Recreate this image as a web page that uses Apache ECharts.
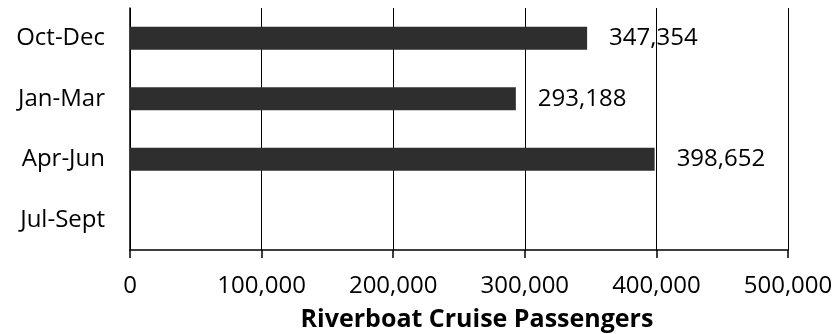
<!DOCTYPE html>
<html>
<head>
<meta charset="utf-8">
<script src="https://cdn.jsdelivr.net/npm/echarts@6/dist/echarts.min.js"></script>
<style>
html,body{margin:0;padding:0;background:#fff;}
#chart{width:839px;height:334px;}
</style>
</head>
<body>
<div id="chart"></div>
<script>
const categories = ['Oct-Dec', 'Jan-Mar', 'Apr-Jun', 'Jul-Sept'];
const passengers = [347354, 293188, 398652, null];
const axisTitle = 'Riverboat Cruise Passengers';

const fmt = v => Number(v).toLocaleString('en-US');
const FONT = '"Open Sans", sans-serif';

const chart = echarts.init(document.getElementById('chart'), null, {renderer: 'canvas'});
chart.setOption({
  animation: false,
  backgroundColor: '#ffffff',
  grid: {left: 130, right: 51, top: 8, bottom: 84, containLabel: false},
  xAxis: {
    type: 'value',
    min: 0,
    max: 500000,
    interval: 100000,
    axisLine: {show: true, lineStyle: {color: '#000', width: 1.5}},
    axisTick: {show: true, length: 8, lineStyle: {color: '#000', width: 1.5}},
    splitLine: {show: true, lineStyle: {color: '#000', width: 1}},
    axisLabel: {
      formatter: v => fmt(v),
      color: '#000',
      fontFamily: FONT,
      fontSize: 24,
      margin: 24
    }
  },
  yAxis: {
    type: 'category',
    data: categories,
    inverse: true,
    axisLine: {show: true, lineStyle: {color: '#000', width: 1.5}},
    axisTick: {show: false},
    splitLine: {show: false},
    axisLabel: {
      color: '#000',
      fontFamily: FONT,
      fontSize: 24,
      margin: 25
    }
  },
  series: [{
    type: 'bar',
    data: passengers,
    barWidth: 23,
    itemStyle: {color: '#2e2e2e'},
    label: {
      show: true,
      position: 'right',
      distance: 22,
      formatter: p => fmt(p.value),
      color: '#000',
      fontFamily: FONT,
      fontSize: 24
    }
  }],
  graphic: [{
    type: 'text',
    x: 477,
    y: 320,
    style: {
      text: axisTitle,
      fill: '#000',
      font: 'bold 25px "Open Sans", sans-serif',
      textAlign: 'center',
      textVerticalAlign: 'middle'
    }
  }]
});
</script>
</body>
</html>
